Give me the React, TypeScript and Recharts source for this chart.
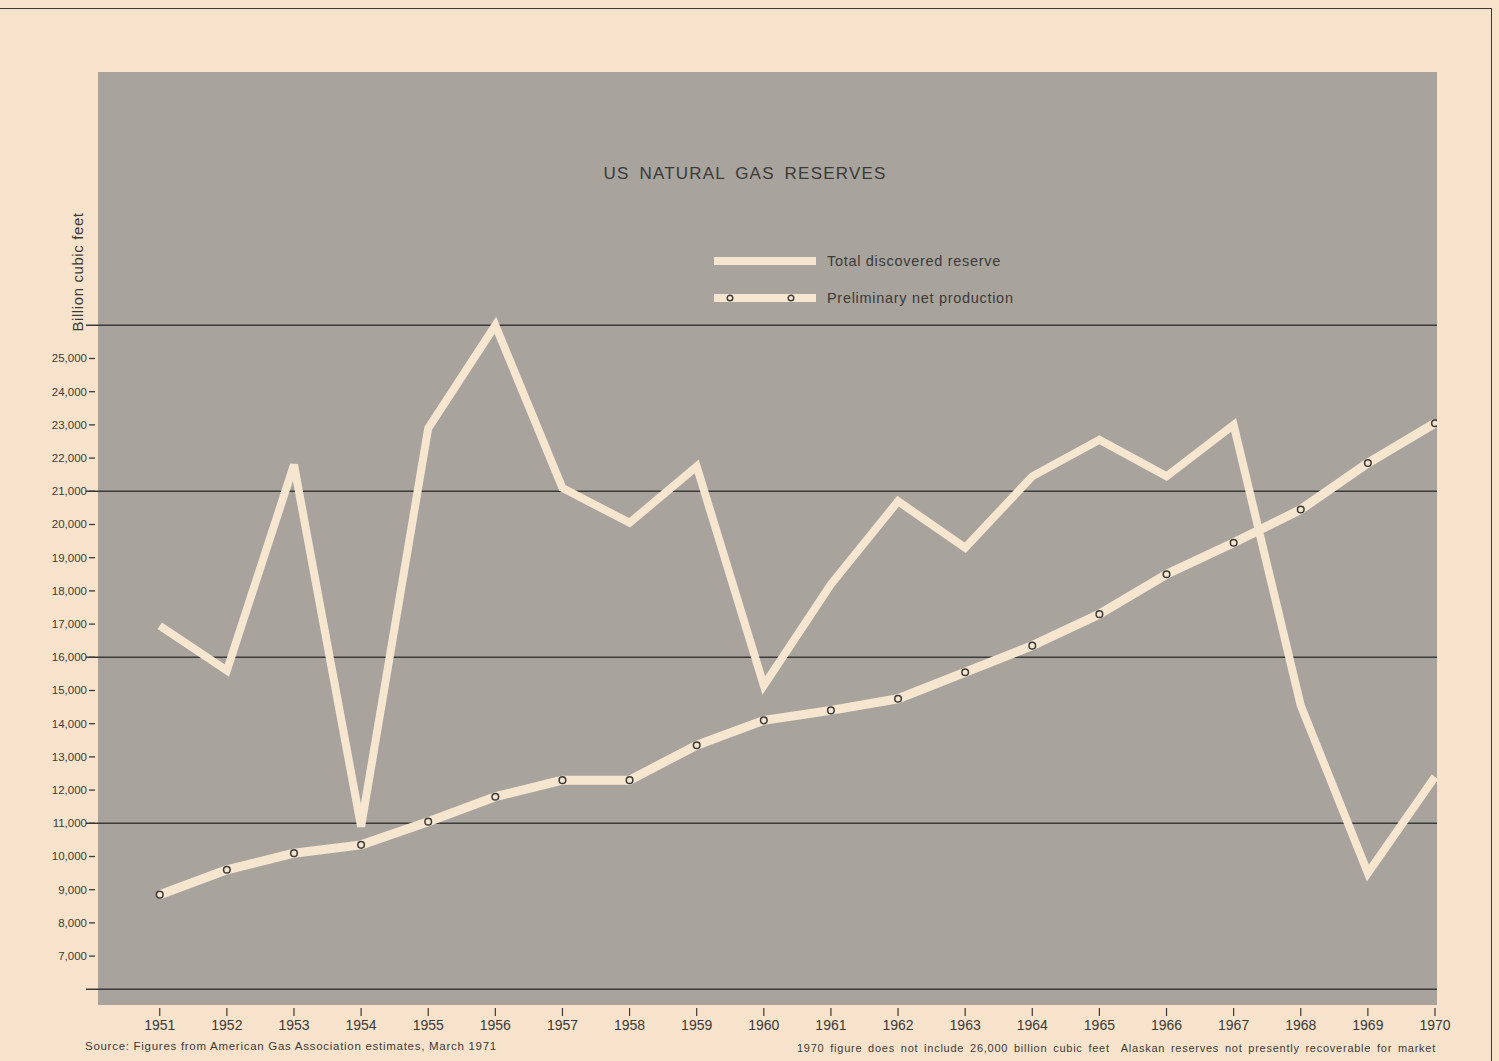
import React from 'react';
import {
  LineChart,
  Line,
  XAxis,
  YAxis,
  CartesianGrid,
  ReferenceLine,
} from 'recharts';

const years = [
  1951, 1952, 1953, 1954, 1955, 1956, 1957, 1958, 1959, 1960,
  1961, 1962, 1963, 1964, 1965, 1966, 1967, 1968, 1969, 1970,
];

// billion cubic feet
const totalReserve = [
  16950, 15600, 21800, 10900, 22900, 26000, 21100, 20050, 21750, 15150,
  18200, 20700, 19300, 21450, 22550, 21450, 23000, 14550, 9500, 12400,
];

const netProduction = [
  8850, 9600, 10100, 10350, 11050, 11800, 12300, 12300, 13350, 14100,
  14400, 14750, 15550, 16350, 17300, 18500, 19450, 20450, 21850, 23050,
];

const yTicks = [
  7000, 8000, 9000, 10000, 11000, 12000, 13000, 14000, 15000, 16000,
  17000, 18000, 19000, 20000, 21000, 22000, 23000, 24000, 25000,
];

const blackLines = [6000, 11000, 16000, 21000, 26000];

const seriesNames = ['Total discovered reserve', 'Preliminary net production'];

const data = years.map((year, i) => ({
  year,
  reserve: totalReserve[i],
  production: netProduction[i],
}));

const PAPER = '#f7e3cb';
const PANEL = '#a8a49d';
const CREAM = '#f6e6cf';
const INK = '#3b3a38';
const FONT = '"Liberation Sans", Arial, Helvetica, sans-serif';

const YTick = (props: any) => {
  const { x, y, payload } = props;
  return (
    <g>
      <text
        x={x - 8}
        y={y}
        textAnchor="end"
        dominantBaseline="central"
        fontSize={11.5}
        fill={INK}
        fontFamily={FONT}
      >
        {payload.value.toLocaleString('en-US')}
      </text>
      <line x1={x - 6} x2={x} y1={y} y2={y} stroke={INK} strokeWidth={1.3} />
    </g>
  );
};

const XTick = (props: any) => {
  const { x, y, payload } = props;
  return (
    <g>
      <line x1={x} x2={x} y1={y + 3} y2={y + 11} stroke={INK} strokeWidth={1.2} />
      <text
        x={x}
        y={y + 20}
        textAnchor="middle"
        dominantBaseline="central"
        fontSize={14}
        fill={INK}
        fontFamily={FONT}
      >
        {payload.value}
      </text>
    </g>
  );
};

function LegendBox() {
  return (
    <div
      style={{
        position: 'absolute',
        left: 714,
        top: 251,
        fontFamily: FONT,
        fontSize: 14.5,
        letterSpacing: 0.7,
        color: INK,
      }}
    >
      <div style={{ display: 'flex', alignItems: 'center', height: 20 }}>
        <svg width={102} height={12}>
          <line x1={0} x2={102} y1={6} y2={6} stroke={CREAM} strokeWidth={8} />
        </svg>
        <span style={{ marginLeft: 11 }}>{seriesNames[0]}</span>
      </div>
      <div style={{ display: 'flex', alignItems: 'center', height: 20, marginTop: 17 }}>
        <svg width={102} height={12}>
          <line x1={0} x2={102} y1={6} y2={6} stroke={CREAM} strokeWidth={8} />
          <circle cx={16} cy={6} r={2.8} fill={CREAM} stroke={INK} strokeWidth={1.4} />
          <circle cx={77} cy={6} r={2.8} fill={CREAM} stroke={INK} strokeWidth={1.4} />
        </svg>
        <span style={{ marginLeft: 11 }}>{seriesNames[1]}</span>
      </div>
    </div>
  );
}

export default function App() {
  return (
    <div
      style={{
        position: 'absolute',
        left: 0,
        top: 0,
        width: 1499,
        height: 1061,
        background: PAPER,
        overflow: 'hidden',
        fontFamily: FONT,
      }}
    >
      <div
        style={{
          position: 'absolute',
          left: 0,
          top: 8,
          width: 1491,
          height: 1061,
          borderTop: `1.5px solid ${INK}`,
          borderRight: `1.5px solid ${INK}`,
        }}
      />
      <LineChart
        width={1499}
        height={1061}
        data={data}
        margin={{ top: 72, right: 62, bottom: 26, left: 38 }}
      >
        <CartesianGrid fill={PANEL} horizontal={false} vertical={false} />
        <XAxis
          dataKey="year"
          type="number"
          domain={[1950.08, 1970.03]}
          ticks={years}
          allowDataOverflow
          axisLine={false}
          tickLine={false}
          tickSize={0}
          tickMargin={0}
          height={30}
          tick={<XTick />}
          interval={0}
        />
        <YAxis
          type="number"
          domain={[5527, 33629]}
          ticks={yTicks}
          allowDataOverflow
          axisLine={false}
          tickLine={false}
          tickSize={0}
          tickMargin={3}
          width={60}
          tick={<YTick />}
          interval={0}
        />
        {blackLines.map((v) => (
          <ReferenceLine
            key={v}
            segment={[
              { x: 1949.9, y: v },
              { x: 1970.03, y: v },
            ]}
            stroke={INK}
            strokeWidth={1.6}
            ifOverflow="visible"
          />
        ))}
        <Line
          name={seriesNames[0]}
          type="linear"
          dataKey="reserve"
          stroke={CREAM}
          strokeWidth={8}
          dot={false}
          isAnimationActive={false}
        />
        <Line
          name={seriesNames[1]}
          type="linear"
          dataKey="production"
          stroke={CREAM}
          strokeWidth={9}
          strokeLinejoin="round"
          dot={{ r: 3.3, fill: CREAM, stroke: INK, strokeWidth: 1.5 }}
          isAnimationActive={false}
        />
      </LineChart>
      <LegendBox />
      <div
        style={{
          position: 'absolute',
          left: 0,
          width: 1490,
          top: 164,
          textAlign: 'center',
          fontSize: 17,
          color: INK,
          letterSpacing: 1.2,
          wordSpacing: 4,
        }}
      >
        US NATURAL GAS RESERVES
      </div>
      <div
        style={{
          position: 'absolute',
          left: 77,
          top: 272,
          transform: 'translate(-50%, -50%) rotate(-90deg)',
          whiteSpace: 'nowrap',
          fontSize: 15,
          letterSpacing: 0.6,
          color: INK,
        }}
      >
        Billion cubic feet
      </div>
      <div
        style={{
          position: 'absolute',
          left: 85,
          top: 1040,
          fontSize: 11.5,
          color: INK,
          letterSpacing: 0.72,
          whiteSpace: 'nowrap',
        }}
      >
        Source: Figures from American Gas Association estimates, March 1971
      </div>
      <div
        style={{
          position: 'absolute',
          left: 797,
          top: 1042,
          fontSize: 11,
          color: INK,
          letterSpacing: 0.75,
          wordSpacing: 2,
          whiteSpace: 'nowrap',
        }}
      >
        1970 figure does not include 26,000 billion cubic feet&nbsp; Alaskan reserves not presently recoverable for market
      </div>
    </div>
  );
}
